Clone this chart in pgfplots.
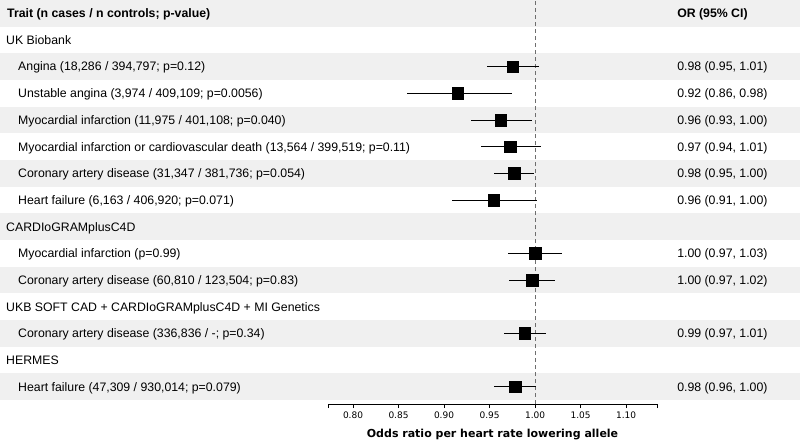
\documentclass[border=0pt]{standalone}
\usepackage{pgfplots}
\pgfplotsset{compat=1.18}
\usepackage{pgfplotstable}
\usepackage{fontspec}
\setmainfont{Liberation Sans}
\newfontfamily\dejavu{DejaVu Sans}
\definecolor{rowgray}{RGB}{240,240,240}
\definecolor{refgray}{RGB}{110,110,110}

% y = row centre (1 unit = 1pt), or = odds ratio, lo/hi = 95% CI
\pgfplotstableread{
y      or     lo     hi
374.33 0.9755 0.9476 1.0047
347.67 0.9150 0.8597 0.9744
321.00 0.9623 0.9293 0.9964
294.33 0.9729 0.9403 1.0063
267.67 0.9769 0.9546 0.9993
241.00 0.9546 0.9091 1.0018
187.67 1.0000 0.9707 1.0293
161.00 0.9971 0.9718 1.0223
107.67 0.9887 0.9659 1.0121
54.33  0.9784 0.9553 1.0015
}\ortable

\begin{document}
\begin{tikzpicture}[font=\fontsize{12.3}{14}\selectfont]
\begin{axis}[
    scale only axis,
    width=329pt, height=404pt,
    xmin=0.77253, xmax=1.13407,
    ymin=37, ymax=441,
    clip=false,
    axis x line=bottom,
    axis y line=none,
    x axis line style={-, line width=0.8pt},
    xtick={0.80,0.85,0.90,0.95,1.00,1.05,1.10},
    extra x ticks={0.77253,1.13407},
    extra x tick labels={},
    tick align=outside,
    major tick length=4pt,
    tick style={line width=0.8pt, black},
    xticklabel style={font=\dejavu\fontsize{9}{10}\selectfont, /pgf/number format/fixed, /pgf/number format/fixed zerofill, /pgf/number format/precision=2},
    /pgf/number format/assume math mode=true,
    xlabel={\bfseries Odds ratio per heart rate lowering allele},
    xlabel style={font=\dejavu\fontsize{11}{12}\selectfont, at={(axis description cs:0.5,-0.0743)}, anchor=center},
]
% row backgrounds
\pgfplotsinvokeforeach{0,2,4,6,8,10,12,14}{
  \fill[rowgray] (axis cs:0.41206,{441-26.6667*#1}) rectangle (axis cs:1.29114,{441-26.6667*(#1+1)});
}
\draw[refgray, line width=0.8pt, dash pattern=on 4pt off 3pt] (axis cs:1,37) -- (axis cs:1,441);

% header
\node[anchor=base west, inner sep=0] at (axis cs:{1+(7-535)/910},423.4) {\bfseries Trait (n cases / n controls; p-value)};
\node[anchor=base west, inner sep=0] at (axis cs:{1+(677-535)/910},423.4) {\bfseries OR (95\% CI)};

% group headers
\node[anchor=base west, inner sep=0] at (axis cs:{1+(6-535)/910},396.7) {UK Biobank};
\node[anchor=base west, inner sep=0] at (axis cs:{1+(6-535)/910},210.0) {CARDIoGRAMplusC4D};
\node[anchor=base west, inner sep=0] at (axis cs:{1+(6-535)/910},130.0) {UKB SOFT CAD + CARDIoGRAMplusC4D + MI Genetics};
\node[anchor=base west, inner sep=0] at (axis cs:{1+(6-535)/910},76.7) {HERMES};

% traits
\node[anchor=base west, inner sep=0] at (axis cs:{1+(18-535)/910},370.0) {Angina (18,286 / 394,797; p=0.12)};
\node[anchor=base west, inner sep=0] at (axis cs:{1+(18-535)/910},343.4) {Unstable angina (3,974 / 409,109; p=0.0056)};
\node[anchor=base west, inner sep=0] at (axis cs:{1+(18-535)/910},316.7) {Myocardial infarction (11,975 / 401,108; p=0.040)};
\node[anchor=base west, inner sep=0] at (axis cs:{1+(18-535)/910},290.0) {Myocardial infarction or cardiovascular death (13,564 / 399,519; p=0.11)};
\node[anchor=base west, inner sep=0] at (axis cs:{1+(18-535)/910},263.4) {Coronary artery disease (31,347 / 381,736; p=0.054)};
\node[anchor=base west, inner sep=0] at (axis cs:{1+(18-535)/910},236.7) {Heart failure (6,163 / 406,920; p=0.071)};
\node[anchor=base west, inner sep=0] at (axis cs:{1+(18-535)/910},183.4) {Myocardial infarction (p=0.99)};
\node[anchor=base west, inner sep=0] at (axis cs:{1+(18-535)/910},156.7) {Coronary artery disease (60,810 / 123,504; p=0.83)};
\node[anchor=base west, inner sep=0] at (axis cs:{1+(18-535)/910},103.4) {Coronary artery disease (336,836 / -; p=0.34)};
\node[anchor=base west, inner sep=0] at (axis cs:{1+(18-535)/910},50.0) {Heart failure (47,309 / 930,014; p=0.079)};

% OR column
\node[anchor=base west, inner sep=0] at (axis cs:{1+(677-535)/910},370.0) {0.98 (0.95, 1.01)};
\node[anchor=base west, inner sep=0] at (axis cs:{1+(677-535)/910},343.4) {0.92 (0.86, 0.98)};
\node[anchor=base west, inner sep=0] at (axis cs:{1+(677-535)/910},316.7) {0.96 (0.93, 1.00)};
\node[anchor=base west, inner sep=0] at (axis cs:{1+(677-535)/910},290.0) {0.97 (0.94, 1.01)};
\node[anchor=base west, inner sep=0] at (axis cs:{1+(677-535)/910},263.4) {0.98 (0.95, 1.00)};
\node[anchor=base west, inner sep=0] at (axis cs:{1+(677-535)/910},236.7) {0.96 (0.91, 1.00)};
\node[anchor=base west, inner sep=0] at (axis cs:{1+(677-535)/910},183.4) {1.00 (0.97, 1.03)};
\node[anchor=base west, inner sep=0] at (axis cs:{1+(677-535)/910},156.7) {1.00 (0.97, 1.02)};
\node[anchor=base west, inner sep=0] at (axis cs:{1+(677-535)/910},103.4) {0.99 (0.97, 1.01)};
\node[anchor=base west, inner sep=0] at (axis cs:{1+(677-535)/910},50.0) {0.98 (0.96, 1.00)};

\addplot[only marks, mark=square*, mark size=5.8pt, black,
    error bars/.cd, x dir=both, x explicit, error mark=none,
    error bar style={line width=0.8pt, black}]
  table[x=or, y=y, x error plus expr=\thisrow{hi}-\thisrow{or}, x error minus expr=\thisrow{or}-\thisrow{lo}] {\ortable};

\coordinate (BL) at (axis cs:0.41206,0);
\coordinate (TR) at (axis cs:1.29114,441);
\end{axis}
\pgfresetboundingbox
\path (BL) rectangle (TR);
\end{tikzpicture}
\end{document}
